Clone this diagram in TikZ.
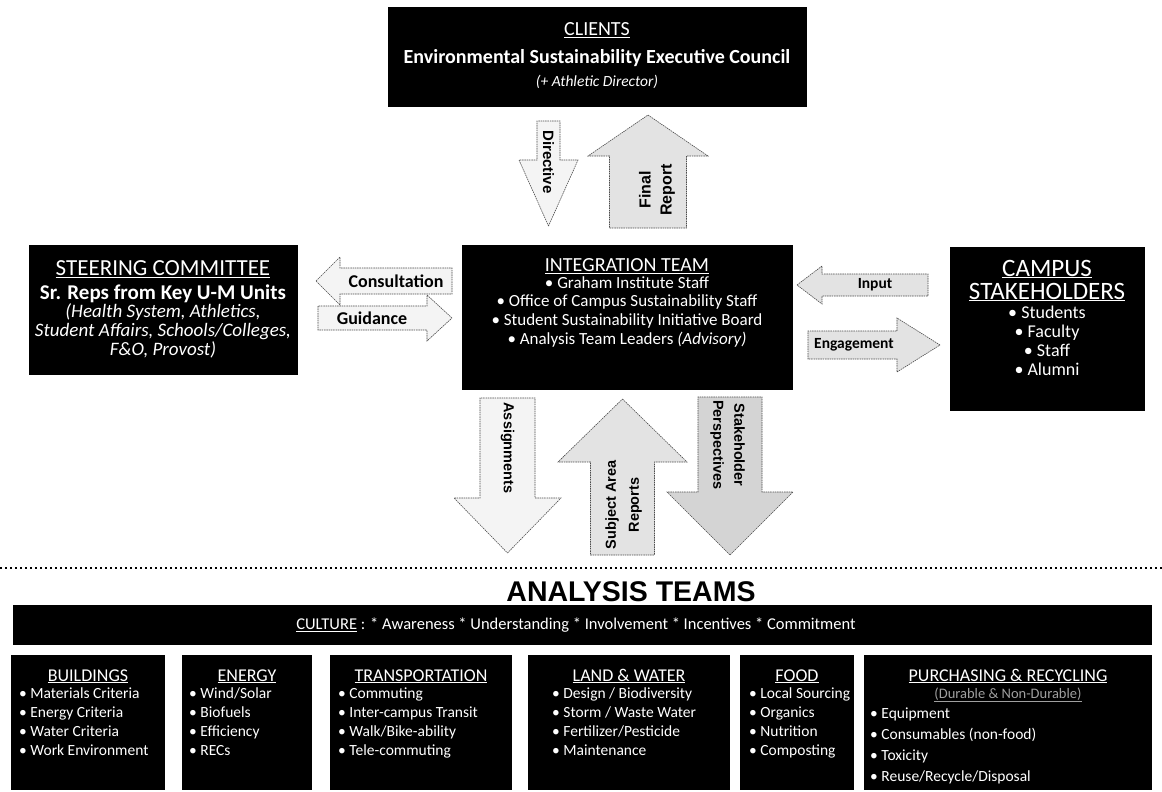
\documentclass[tikz,border=0pt]{standalone}
\usepackage{fontspec}
\setmainfont{Carlito}
\newfontfamily\arialfont{Liberation Sans}
\newcommand{\arrH}[7]{% style, tip x, base x, end x, cy, h, H
  \draw[#1] ({#2},{#5}) -- ({#3},{#5-#7}) -- ({#3},{#5-#6}) -- ({#4},{#5-#6}) -- ({#4},{#5+#6}) -- ({#3},{#5+#6}) -- ({#3},{#5+#7}) -- cycle;}
\newcommand{\arrV}[7]{% style, cx, tip y, base y, end y, w, W
  \draw[#1] ({#2},{#3}) -- ({#2+#7},{#4}) -- ({#2+#6},{#4}) -- ({#2+#6},{#5}) -- ({#2-#6},{#5}) -- ({#2-#6},{#4}) -- ({#2-#7},{#4}) -- cycle;}
\tikzset{
  blackbox/.style={fill=black, draw=none, inner sep=0pt, outer sep=0pt},
  wt/.style={text=white, inner sep=0pt, anchor=base},
  teamhead/.style={wt, font=\fontsize{18}{21}\selectfont},
  teamitem/.style={wt, anchor=base west, font=\fontsize{15.5}{18}\selectfont},
  arrborder/.style={draw=gray!60!black, line width=0.6pt, dash pattern=on 1.5pt off 0.8pt},
  arrlight/.style={fill=gray!9, arrborder},
  arrmid/.style={fill=gray!22, arrborder},
  arrdark/.style={fill=gray!34, arrborder},
  hlab/.style={inner sep=0pt, font=\bfseries\fontsize{18}{21}\selectfont},
  hlabs/.style={inner sep=0pt, font=\bfseries\fontsize{15.5}{18}\selectfont},
}
\begin{document}
\begin{tikzpicture}[x=1pt,y=-1pt]
\fill[white] (0,0) rectangle (1162,792);
\useasboundingbox (0,0) rectangle (1162,792);

% ---------- CLIENTS ----------
\node[blackbox, minimum width=419pt, minimum height=100pt] (clients) at (597.5,57) {};
\node[wt, font=\fontsize{20}{23}\selectfont] (clientsH) at (597,35.5) {\underline{CLIENTS}};
\node[wt, font=\bfseries\fontsize{20}{23}\selectfont] (clientsB) at (597,63.5) {Environmental Sustainability Executive Council};
\node[wt, font=\itshape\fontsize{15.5}{18}\selectfont] (clientsI) at (597,87) {(+ Athletic Director)};

% ---------- STEERING COMMITTEE ----------
\node[blackbox, minimum width=269pt, minimum height=130pt] (steer) at (163.5,310) {};
\node[wt, font=\fontsize{23}{26}\selectfont] (steerH) at (163,275.5) {\underline{STEERING COMMITTEE}};
\node[wt, font=\bfseries\fontsize{21}{24}\selectfont] (steer1) at (163,299) {Sr. Reps from Key U-M Units};
\node[wt, font=\itshape\fontsize{19}{21}\selectfont] (steer2) at (163,317) {(Health System, Athletics,};
\node[wt, font=\itshape\fontsize{19}{21}\selectfont] (steer3) at (163,336) {Student Affairs, Schools/Colleges,};
\node[wt, font=\itshape\fontsize{19}{21}\selectfont] (steer4) at (163,355) {F\&O, Provost)};

% ---------- INTEGRATION TEAM ----------
\node[blackbox, minimum width=331pt, minimum height=145pt] (integ) at (627.5,317.5) {};
\node[wt, font=\fontsize{20}{23}\selectfont] (integH) at (627,271.5) {\underline{INTEGRATION TEAM}};
\node[wt, font=\fontsize{17}{20}\selectfont] (integ1) at (627,288.5) {• Graham Institute Staff};
\node[wt, font=\fontsize{17}{20}\selectfont] (integ2) at (627,306.5) {• Office of Campus Sustainability Staff};
\node[wt, font=\fontsize{17}{20}\selectfont] (integ3) at (627,325.5) {• Student Sustainability Initiative Board};
\node[wt, font=\fontsize{17}{20}\selectfont] (integ4) at (627,344.5) {• Analysis Team Leaders \textit{(Advisory)}};

% ---------- CAMPUS STAKEHOLDERS ----------
\node[blackbox, minimum width=195pt, minimum height=164pt] (campus) at (1047.5,329) {};
\node[wt, font=\fontsize{25}{28}\selectfont] (campusH1) at (1047,276) {\underline{CAMPUS}};
\node[wt, font=\fontsize{25}{28}\selectfont] (campusH2) at (1047,299) {\underline{STAKEHOLDERS}};
\node[wt, font=\fontsize{18}{21}\selectfont] (campus1) at (1047,318) {• Students};
\node[wt, font=\fontsize{18}{21}\selectfont] (campus2) at (1047,337) {• Faculty};
\node[wt, font=\fontsize{18}{21}\selectfont] (campus3) at (1047,356) {• Staff};
\node[wt, font=\fontsize{18}{21}\selectfont] (campus4) at (1047,375) {• Alumni};

% ---------- top arrows ----------
\arrV{arrlight}{548.5}{226}{160}{121}{11.5}{29.5}
\node[inner sep=0pt, rotate=-90, font=\arialfont\bfseries\fontsize{15}{18}\selectfont] (directive) at (548.5,162) {Directive};
\arrV{arrmid}{648}{115}{156}{228}{38.5}{60}
\node[inner sep=0pt, rotate=90, align=center, font=\arialfont\bfseries\fontsize{16}{21}\selectfont] (finalrep) at (657,190) {Final\\Report};

% ---------- side arrows ----------
\arrH{arrlight}{316}{340}{452}{281}{13}{24}
\node[hlab] (consult) at (396,281) {Consultation};
\arrH{arrlight}{452}{427}{318}{318}{12}{23}
\node[hlab] (guid) at (372,318) {Guidance};
\arrH{arrmid}{797}{822}{928}{285}{11}{19}
\node[hlabs] (input) at (875,285) {Input};
\arrH{arrmid}{940}{897}{808}{345}{14}{27}
\node[hlabs] (engage) at (854,345) {Engagement};

% ---------- bottom arrows ----------
\arrV{arrlight}{507.5}{553}{498}{398}{27.5}{53.5}
\node[inner sep=0pt, rotate=-90, font=\arialfont\bfseries\fontsize{14.5}{18}\selectfont] (assign) at (507.5,448) {Assignments};
\arrV{arrmid}{622.5}{399}{462}{555}{32}{64.5}
\node[inner sep=0pt, rotate=90, align=center, font=\arialfont\bfseries\fontsize{14.5}{23}\selectfont] (subject) at (623.5,505) {Subject Area\\Reports};
\arrV{arrdark}{730}{555}{492}{397}{32}{63}
\node[inner sep=0pt, rotate=-90, align=center, font=\arialfont\bfseries\fontsize{14.5}{21}\selectfont] (stake) at (727.5,445) {Stakeholder\\Perspectives};

% ---------- separator ----------
\coordinate (sepL) at (0,568);
\coordinate (sepR) at (1162,568);
\draw[line width=2pt, dash pattern=on 2pt off 3pt] (sepL) -- (sepR);

\node[inner sep=0pt, anchor=base, font=\arialfont\bfseries\fontsize{28.5}{32}\selectfont] (analysis) at (631,601) {ANALYSIS TEAMS};

% ---------- culture bar ----------
\node[blackbox, minimum width=1139pt, minimum height=40pt] (culture) at (582.5,625) {};
\node[wt, font=\fontsize{16.5}{19}\selectfont] (cultureT) at (576,629.5) {\underline{CULTURE} : * Awareness * Understanding * Involvement * Incentives * Commitment};

% ---------- team boxes ----------
\node[blackbox, minimum width=154pt, minimum height=135pt] (bld) at (88,722.5) {};
\node[blackbox, minimum width=130pt, minimum height=135pt] (ene) at (247,722.5) {};
\node[blackbox, minimum width=182pt, minimum height=135pt] (tra) at (421,722.5) {};
\node[blackbox, minimum width=202pt, minimum height=135pt] (lnd) at (629,722.5) {};
\node[blackbox, minimum width=114pt, minimum height=135pt] (food) at (797,722.5) {};
\node[blackbox, minimum width=288pt, minimum height=135pt] (pur) at (1008,722.5) {};

\node[teamhead] (bldH) at (88,681) {\underline{BUILDINGS}};
\node[teamhead] (eneH) at (247,681) {\underline{ENERGY}};
\node[teamhead] (traH) at (421,681) {\underline{TRANSPORTATION}};
\node[teamhead] (lndH) at (629,681) {\underline{LAND \& WATER}};
\node[teamhead] (foodH) at (797,681) {\underline{FOOD}};
\node[teamhead] (purH) at (1008,681) {\underline{PURCHASING \& RECYCLING}};
\node[wt, text=gray!75, font=\fontsize{14.5}{17}\selectfont] (purS) at (1008,698) {\underline{(Durable \& Non-Durable)}};

\foreach \t [count=\i] in {Materials Criteria, Energy Criteria, Water Criteria, Work Environment}
  \node[teamitem] (bld-\i) at (19,{679+19*\i}) {• \t};
\foreach \t [count=\i] in {Wind/Solar, Biofuels, Efficiency, RECs}
  \node[teamitem] (ene-\i) at (189,{679+19*\i}) {• \t};
\foreach \t [count=\i] in {Commuting, Inter-campus Transit, Walk/Bike-ability, Tele-commuting}
  \node[teamitem] (tra-\i) at (338,{679+19*\i}) {• \t};
\foreach \t [count=\i] in {Design / Biodiversity, Storm / Waste Water, Fertilizer/Pesticide, Maintenance}
  \node[teamitem] (lnd-\i) at (552,{679+19*\i}) {• \t};
\foreach \t [count=\i] in {Local Sourcing, Organics, Nutrition, Composting}
  \node[teamitem] (food-\i) at (749,{679+19*\i}) {• \t};
\foreach \t [count=\i] in {Equipment, Consumables (non-food), Toxicity, Reuse/Recycle/Disposal}
  \node[teamitem] (pur-\i) at (870,{697+21*\i}) {• \t};
\end{tikzpicture}
\end{document}
